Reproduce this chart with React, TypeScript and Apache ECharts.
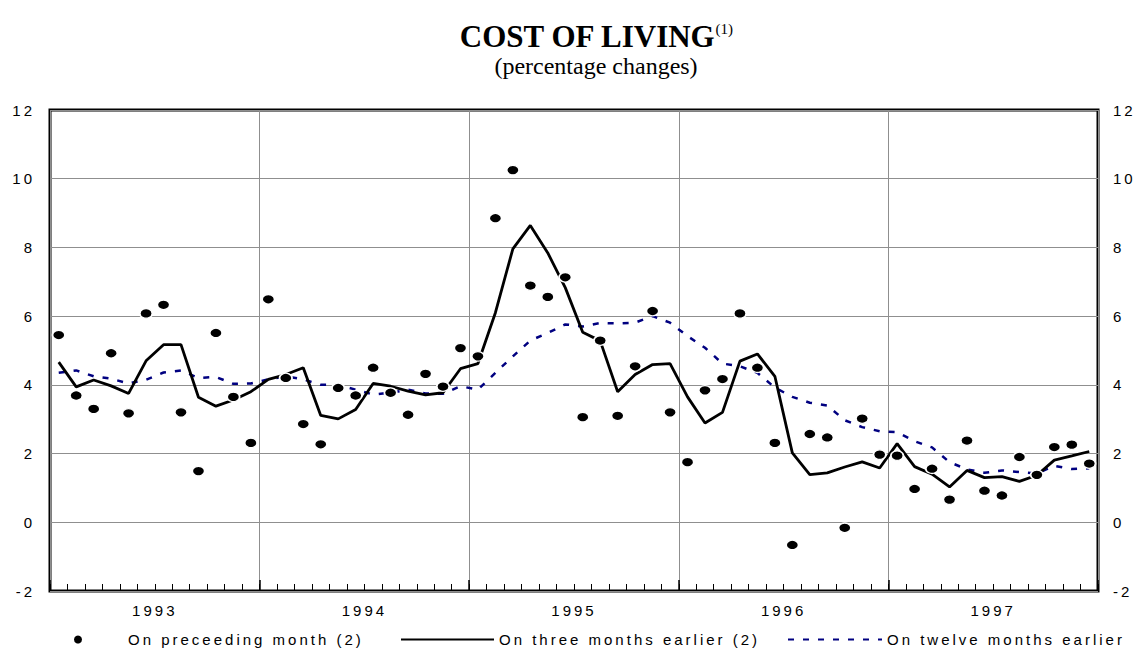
import React, { useEffect, useRef } from 'react';
import * as echarts from 'echarts';

const years = ['1993', '1994', '1995', '1996', '1997'];
const months = ['Jan', 'Feb', 'Mar', 'Apr', 'May', 'Jun', 'Jul', 'Aug', 'Sep', 'Oct', 'Nov', 'Dec'];
const categories = years.flatMap((y) => months.map((m) => `${m} ${y}`));

const onPrecedingMonth = [
  5.45, 3.69, 3.30, 4.92, 3.17, 6.08, 6.33, 3.20, 1.49, 5.51,
  3.65, 2.31, 6.49, 4.20, 2.86, 2.27, 3.91, 3.69, 4.50, 3.77,
  3.13, 4.32, 3.95, 5.07, 4.83, 8.85, 10.25, 6.89, 6.56, 7.13,
  3.06, 5.29, 3.10, 4.54, 6.15, 3.20, 1.75, 3.84, 4.17, 6.08,
  4.50, 2.31, -0.66, 2.57, 2.47, -0.16, 3.02, 1.97, 1.94, 0.97,
  1.56, 0.66, 2.38, 0.92, 0.78, 1.90, 1.38, 2.19, 2.26, 1.71,
];

const onThreeMonthsEarlier = [
  4.66, 3.94, 4.14, 3.97, 3.75, 4.70, 5.17, 5.17, 3.64, 3.38,
  3.56, 3.80, 4.16, 4.30, 4.50, 3.11, 3.01, 3.28, 4.04, 3.96,
  3.82, 3.71, 3.77, 4.47, 4.62, 6.10, 7.96, 8.64, 7.84, 6.83,
  5.53, 5.28, 3.80, 4.30, 4.59, 4.62, 3.65, 2.89, 3.20, 4.69,
  4.90, 4.25, 2.02, 1.39, 1.44, 1.61, 1.76, 1.58, 2.29, 1.62,
  1.40, 1.03, 1.51, 1.30, 1.33, 1.19, 1.37, 1.81, 1.93, 2.06,
];

const onTwelveMonthsEarlier = [
  4.35, 4.42, 4.25, 4.18, 4.04, 4.15, 4.36, 4.42, 4.20, 4.23,
  4.03, 4.04, 4.16, 4.25, 4.16, 4.00, 4.00, 3.86, 3.72, 3.77,
  3.86, 3.75, 3.74, 3.96, 3.86, 4.35, 4.83, 5.29, 5.51, 5.76,
  5.70, 5.80, 5.79, 5.81, 6.00, 5.81, 5.42, 5.08, 4.62, 4.54,
  4.35, 3.92, 3.65, 3.48, 3.40, 2.97, 2.77, 2.65, 2.62, 2.36,
  2.18, 1.75, 1.54, 1.44, 1.51, 1.46, 1.42, 1.64, 1.55, 1.57,
];

const seriesNames = ['On preceeding month (2)', 'On three months earlier (2)', 'On twelve months earlier'];
const yMin = -2;
const yMax = 12;
const yStep = 2;

const SANS = '"Liberation Sans", Arial, Helvetica, sans-serif';
const SERIF = '"Liberation Serif", "Times New Roman", Times, serif';

export default function App() {
  const ref = useRef<HTMLDivElement>(null);

  useEffect(() => {
    if (!ref.current) return;
    const chart = echarts.init(ref.current, null, { renderer: 'svg' });

    const axisLabelStyle = { color: '#000', fontFamily: SANS, fontSize: 15 };
    const legendBase = {
      top: 632,
      itemHeight: 10,
      padding: 0,
      selectedMode: false as const,
      textStyle: { color: '#000', fontFamily: SANS, fontSize: 15 },
    };

    const option: any = {
      animation: false,
      backgroundColor: '#fff',
      title: {
        left: 596,
        top: 21,
        padding: 0,
        itemGap: 2,
        textAlign: 'center',
        textVerticalAlign: 'top',
        text: '{a|COST OF LIVING}{b|(1)}',
        textStyle: {
          rich: {
            a: { fontFamily: SERIF, fontSize: 31, fontWeight: 'bold', color: '#000' },
            b: { fontFamily: SERIF, fontSize: 15, fontWeight: 'normal', color: '#000', verticalAlign: 'top' },
          },
        },
        subtext: '(percentage changes)',
        subtextStyle: { fontFamily: SERIF, fontSize: 24, color: '#000' },
      },
      legend: [
        { ...legendBase, left: 72, itemWidth: 90, data: [seriesNames[0]] },
        { ...legendBase, left: 400, itemWidth: 93, itemStyle: { opacity: 0 }, data: [seriesNames[1]] },
        { ...legendBase, left: 787, itemWidth: 94, itemStyle: { opacity: 0 }, data: [seriesNames[2]] },
      ],
      grid: {
        left: 50,
        right: 38,
        top: 110,
        bottom: 57,
        show: true,
        borderColor: '#000',
        borderWidth: 3,
        backgroundColor: 'transparent',
      },
      xAxis: [
        {
          type: 'category',
          position: 'bottom',
          data: categories,
          boundaryGap: true,
          axisLine: { show: false, onZero: false },
          axisLabel: { show: false },
          axisTick: { show: true, interval: 0, inside: true, length: 7, lineStyle: { color: '#000', width: 1 } },
          splitLine: { show: false },
        },
        {
          type: 'category',
          position: 'bottom',
          data: years,
          boundaryGap: true,
          axisLine: { show: false, onZero: false },
          axisLabel: { ...axisLabelStyle, margin: 12 },
          axisTick: { show: true, interval: 0, inside: true, length: 11, lineStyle: { color: '#000', width: 1.5 } },
          splitLine: { show: true, interval: 0, lineStyle: { color: '#8f8f8f', width: 1 } },
        },
      ],
      yAxis: [
        {
          type: 'value',
          position: 'left',
          min: yMin,
          max: yMax,
          interval: yStep,
          axisLine: { show: false },
          axisTick: { show: false },
          axisLabel: { ...axisLabelStyle, margin: 15 },
          splitLine: { show: true, lineStyle: { color: '#8f8f8f', width: 1 } },
        },
        {
          type: 'value',
          position: 'right',
          min: yMin,
          max: yMax,
          interval: yStep,
          axisLine: { show: false },
          axisTick: { show: false },
          axisLabel: { ...axisLabelStyle, margin: 15 },
          splitLine: { show: false },
        },
      ],
      series: [
        {
          name: seriesNames[0],
          type: 'scatter',
          xAxisIndex: 0,
          yAxisIndex: 0,
          data: onPrecedingMonth,
          symbol: 'circle',
          symbolSize: [12.5, 9.5],
          itemStyle: { color: '#000', borderColor: '#fff', borderWidth: 1.5, opacity: 1 },
          z: 5,
        },
        {
          name: seriesNames[1],
          type: 'line',
          xAxisIndex: 0,
          yAxisIndex: 0,
          data: onThreeMonthsEarlier,
          symbol: 'none',
          lineStyle: { color: '#000', width: 2.8, type: 'solid' },
          itemStyle: { color: '#000' },
          z: 3,
        },
        {
          name: seriesNames[2],
          type: 'line',
          xAxisIndex: 0,
          yAxisIndex: 0,
          data: onTwelveMonthsEarlier,
          symbol: 'none',
          lineStyle: { color: '#000080', width: 2.5, type: [6, 9], cap: 'butt' },
          itemStyle: { color: '#000080' },
          z: 2,
        },
      ],
    };

    chart.setOption(option);

    const spaced = new Set<string>([...seriesNames, ...years]);
    for (let v = yMin; v <= yMax; v += yStep) spaced.add(String(v));
    const applySpacing = () => {
      const root = ref.current;
      if (!root) return;
      root.querySelectorAll('text').forEach((t) => {
        const s = (t.textContent || '').trim();
        if (spaced.has(s)) t.setAttribute('letter-spacing', '3');
      });
    };
    applySpacing();
    chart.on('finished', applySpacing);

    return () => {
      chart.dispose();
    };
  }, []);

  return (
    <div
      ref={ref}
      style={{ position: 'absolute', left: 0, top: 0, width: 1136, height: 648 }}
    />
  );
}
